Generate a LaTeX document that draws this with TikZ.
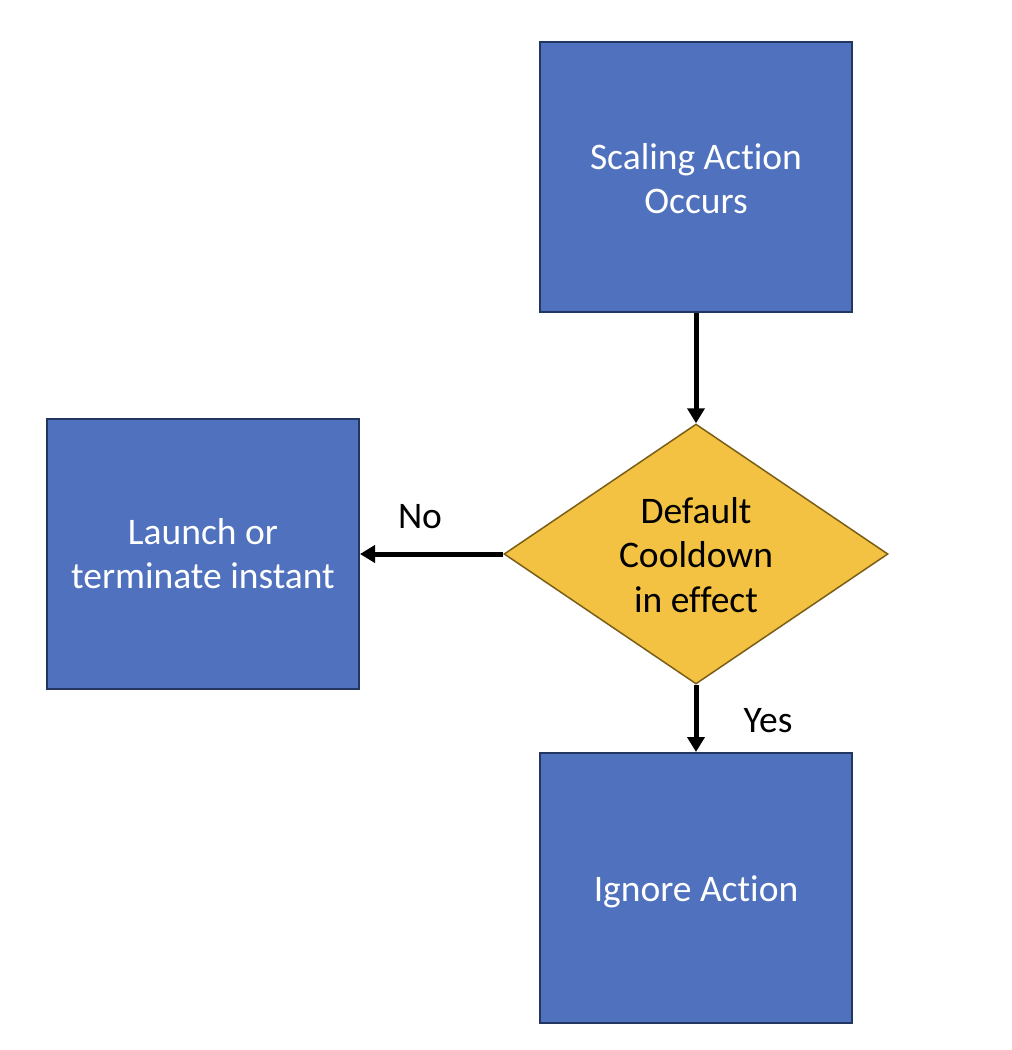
\documentclass[tikz,border=0pt]{standalone}
\usepackage{fontspec}
\setmainfont[Ligatures={NoCommon}]{Carlito}
\usetikzlibrary{shapes.geometric,arrows.meta}
\definecolor{boxblue}{HTML}{5071BD}
\definecolor{boxedge}{HTML}{23365F}
\definecolor{dgold}{HTML}{F4C242}
\definecolor{dedge}{HTML}{7A5E16}
\begin{document}
\begin{tikzpicture}[x=1pt,y=-1pt,
  procbox/.style={draw=boxedge,line width=2pt,fill=boxblue,minimum width=312pt,minimum height=270pt,inner sep=0pt,text=white,align=center,font=\fontsize{37.5}{44}\selectfont},
  decide/.style={diamond,draw=dedge,line width=1.5pt,fill=dgold,minimum width=384pt,minimum height=260pt,inner sep=0pt,aspect=1.477},
  flow/.style={line width=5pt,-{Triangle[length=15pt,width=17pt]}},
  lbl/.style={font=\fontsize{37.5}{44}\selectfont,inner sep=0pt}]
\useasboundingbox (0,0) rectangle (1012,1050);
\node[procbox] (scale) at (696,177) {};
\node[text=white,align=center,font=\fontsize{37.5}{44}\selectfont] (scaletext) at (696,179) {Scaling Action\\Occurs};
\node[procbox] (launch) at (203,554) {Launch or\\terminate instant};
\node[procbox] (ignore) at (696,888) {};
\node[text=white,font=\fontsize{37.5}{44}\selectfont] (ignoretext) at (696,892) {Ignore Action};
\node[decide] (cool) at (696,554) {};
\node[font=\fontsize{37.5}{44.5}\selectfont,align=center] (cooltext) at (696,555) {Default\\Cooldown\\in effect};
\draw[flow] (scale.south) -- (cool.north);
\draw[flow] (cool.west) -- (launch.east);
\draw[flow] (cool.south) -- (ignore.north);
\node[lbl] (no) at (420,517) {No};
\node[lbl] (yes) at (768,721) {Yes};
\end{tikzpicture}
\end{document}
